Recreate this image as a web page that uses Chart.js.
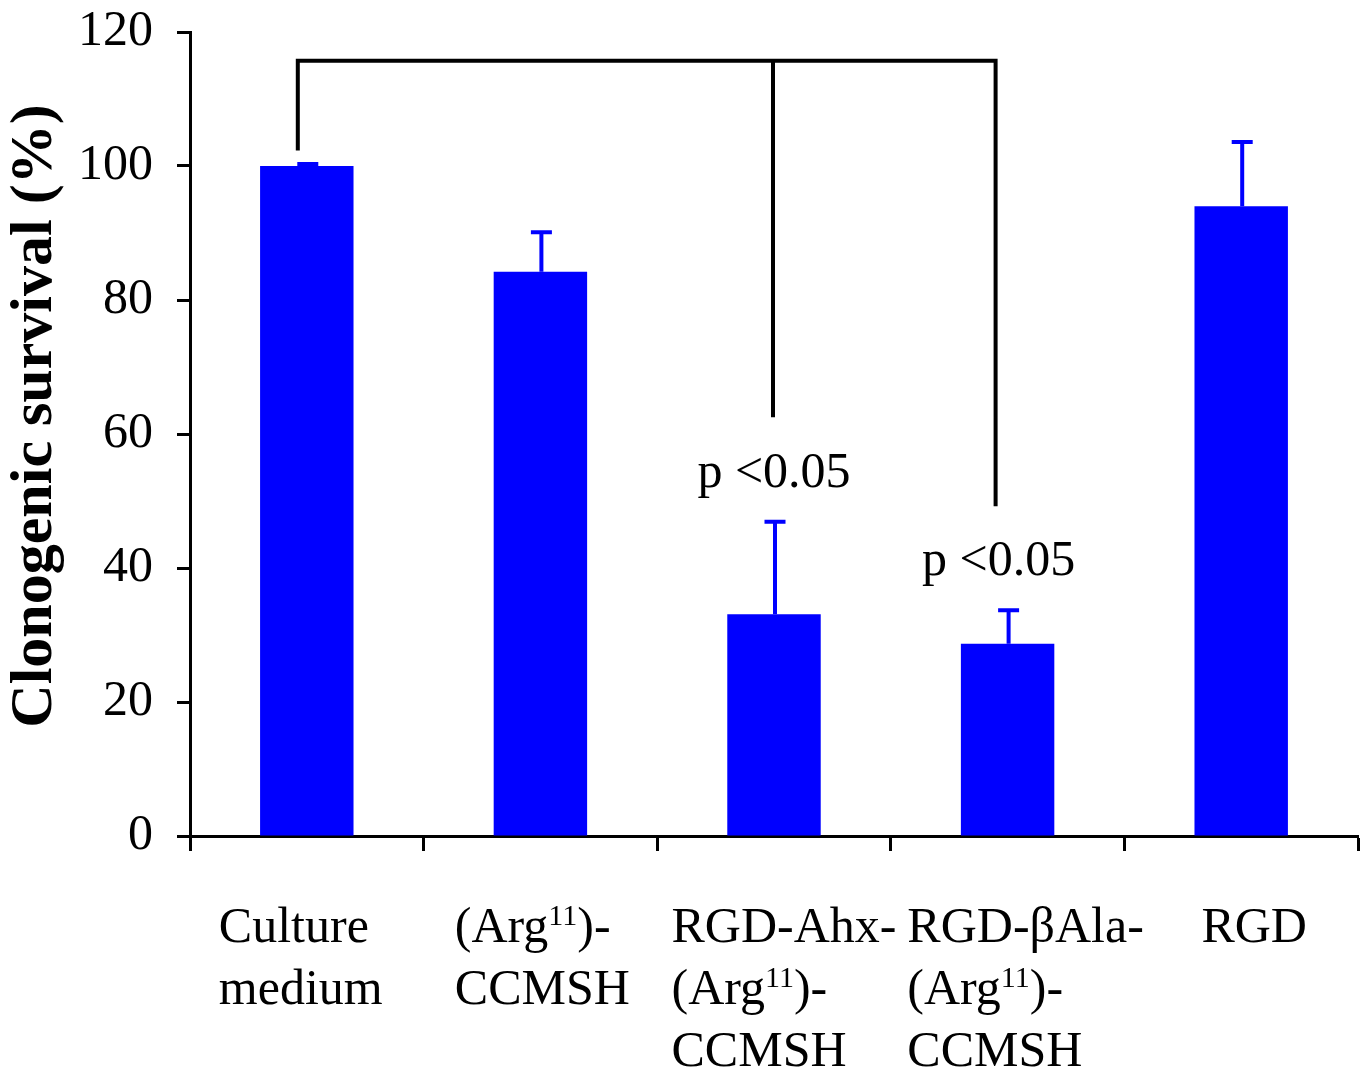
<!DOCTYPE html>
<html>
<head>
<meta charset="utf-8">
<script src="https://cdn.jsdelivr.net/npm/chart.js@4/dist/chart.umd.min.js"></script>
<style>
  html, body { margin: 0; padding: 0; background: #ffffff; }
  #wrap { width: 1368px; height: 1074px; position: relative; }
</style>
</head>
<body>
<div id="wrap"><canvas id="c" width="1368" height="1074"></canvas></div>
<script>
// ---- data ----
const categories = ["Culture medium", "(Arg11)-CCMSH", "RGD-Ahx-(Arg11)-CCMSH", "RGD-βAla-(Arg11)-CCMSH", "RGD"];
// label lines; {..} marks superscript
const categoryLines = [
  ["Culture", "medium"],
  ["(Arg{11})-", "CCMSH"],
  ["RGD-Ahx-", "(Arg{11})-", "CCMSH"],
  ["RGD-βAla-", "(Arg{11})-", "CCMSH"],
  ["RGD"]
];
const survival = [100, 84.2, 33.1, 28.7, 94.0];
const errorUp = [0.3, 5.9, 13.8, 5.0, 9.6];
const yTicks = [0, 20, 40, 60, 80, 100, 120];
const yTitle = "Clonogenic survival (%)";
// significance bracket: top level, groups and their lower ends
const bracketTop = 115.7;
const bracketGroups = [0, 2, 3];
const bracketEnds = [102.6, 62.8, 49.5];
const pLabels = ["p <0.05", "p <0.05"];
const pLabelGroups = [2, 3];
const pLabelValues = [52.1, 39.0];

const SERIF = "'Liberation Serif', 'Times New Roman', serif";
Chart.defaults.font.family = SERIF;
Chart.defaults.color = "#000000";

const annotations = {
  id: 'annotations',
  afterDatasetsDraw(chart) {
    const ctx = chart.ctx;
    const xs = chart.scales.x, ys = chart.scales.y;
    const meta = chart.getDatasetMeta(0);
    ctx.save();
    // error bars (upper only)
    ctx.strokeStyle = '#0000FF';
    ctx.lineWidth = 4;
    ctx.lineCap = 'butt';
    survival.forEach((v, i) => {
      const x = meta.data[i].x + 1;
      const yb = ys.getPixelForValue(v);
      const yt = ys.getPixelForValue(v + errorUp[i]);
      ctx.beginPath();
      ctx.moveTo(x, yb);
      ctx.lineTo(x, yt);
      ctx.moveTo(x - 10.5, yt);
      ctx.lineTo(x + 10.5, yt);
      ctx.stroke();
    });
    // bracket
    const offs = [-9, -1, -12];
    ctx.strokeStyle = '#000000';
    ctx.lineWidth = 4;
    ctx.lineCap = 'square';
    const yTop = ys.getPixelForValue(bracketTop);
    const bx = bracketGroups.map((g, k) => xs.getPixelForValue(g) + offs[k]);
    ctx.beginPath();
    ctx.moveTo(bx[0], yTop);
    ctx.lineTo(bx[bx.length - 1], yTop);
    bracketGroups.forEach((g, k) => {
      ctx.moveTo(bx[k], yTop);
      ctx.lineTo(bx[k], ys.getPixelForValue(bracketEnds[k]));
    });
    ctx.stroke();
    // p labels
    const poffs = [0, -9];
    ctx.fillStyle = '#000000';
    ctx.font = '50px ' + SERIF;
    ctx.textAlign = 'center';
    ctx.textBaseline = 'alphabetic';
    pLabels.forEach((t, k) => {
      ctx.fillText(t, xs.getPixelForValue(pLabelGroups[k]) + poffs[k], ys.getPixelForValue(pLabelValues[k]));
    });
    ctx.restore();
  },
  afterDraw(chart) {
    const ctx = chart.ctx;
    const xs = chart.scales.x;
    ctx.save();
    ctx.fillStyle = '#000000';
    ctx.textBaseline = 'alphabetic';
    ctx.textAlign = 'left';
    const mainFont = '50px ' + SERIF;
    const supFont = '30px ' + SERIF;
    function parse(line) {
      const parts = [];
      const re = /\{([^}]*)\}/g;
      let last = 0, m;
      while ((m = re.exec(line)) !== null) {
        if (m.index > last) parts.push({ t: line.slice(last, m.index), sup: false });
        parts.push({ t: m[1], sup: true });
        last = re.lastIndex;
      }
      if (last < line.length) parts.push({ t: line.slice(last), sup: false });
      return parts;
    }
    function width(parts) {
      let w = 0;
      parts.forEach(p => { ctx.font = p.sup ? supFont : mainFont; w += ctx.measureText(p.t).width; });
      return w;
    }
    const nudges = [-6, 2, 10, 18, 13];
    categoryLines.forEach((lines, i) => {
      const parsed = lines.map(parse);
      const maxW = Math.max(...parsed.map(width));
      const cx = xs.getPixelForValue(i);
      const left = cx - maxW / 2 + nudges[i];
      parsed.forEach((parts, li) => {
        let x = left;
        const y = xs.top + 106 + li * 62;
        parts.forEach(p => {
          ctx.font = p.sup ? supFont : mainFont;
          ctx.fillText(p.t, x, p.sup ? y - 17 : y);
          x += ctx.measureText(p.t).width;
        });
      });
    });
    // y axis title
    ctx.font = 'bold 60px ' + SERIF;
    ctx.textAlign = 'center';
    ctx.translate(51, 416);
    ctx.rotate(-Math.PI / 2);
    ctx.fillText(yTitle, 0, 0);
    ctx.restore();
  }
};

new Chart(document.getElementById('c'), {
  type: 'bar',
  data: {
    labels: categories,
    datasets: [{
      data: survival,
      backgroundColor: '#0000FF',
      borderWidth: 0,
      barPercentage: 0.4,
      categoryPercentage: 1.0
    }]
  },
  options: {
    responsive: false,
    animation: false,
    devicePixelRatio: 1,
    layout: { padding: { top: 32, right: 10, left: 0, bottom: 0 } },
    plugins: { legend: { display: false }, tooltip: { enabled: false }, title: { display: false } },
    scales: {
      x: {
        offset: true,
        grid: { display: true, offset: true, drawOnChartArea: false, drawTicks: true, tickLength: 15, tickWidth: 3, tickColor: '#000000' },
        border: { display: true, color: '#000000', width: 3 },
        ticks: { display: false },
        afterFit(scale) { scale.height = 238; scale.paddingLeft = 0; scale.paddingRight = 0; }
      },
      y: {
        min: 0,
        max: 120,
        afterBuildTicks(scale) { scale.ticks = yTicks.map(v => ({ value: v })); },
        grid: { display: true, drawOnChartArea: false, drawTicks: true, tickLength: 13, tickWidth: 3, tickColor: '#000000' },
        border: { display: true, color: '#000000', width: 3 },
        ticks: { font: { size: 50, family: SERIF }, color: '#000000', padding: 24 },
        afterFit(scale) { scale.width = 190; scale.paddingTop = 0; scale.paddingBottom = 0; }
      }
    }
  },
  plugins: [annotations]
});
</script>
</body>
</html>
